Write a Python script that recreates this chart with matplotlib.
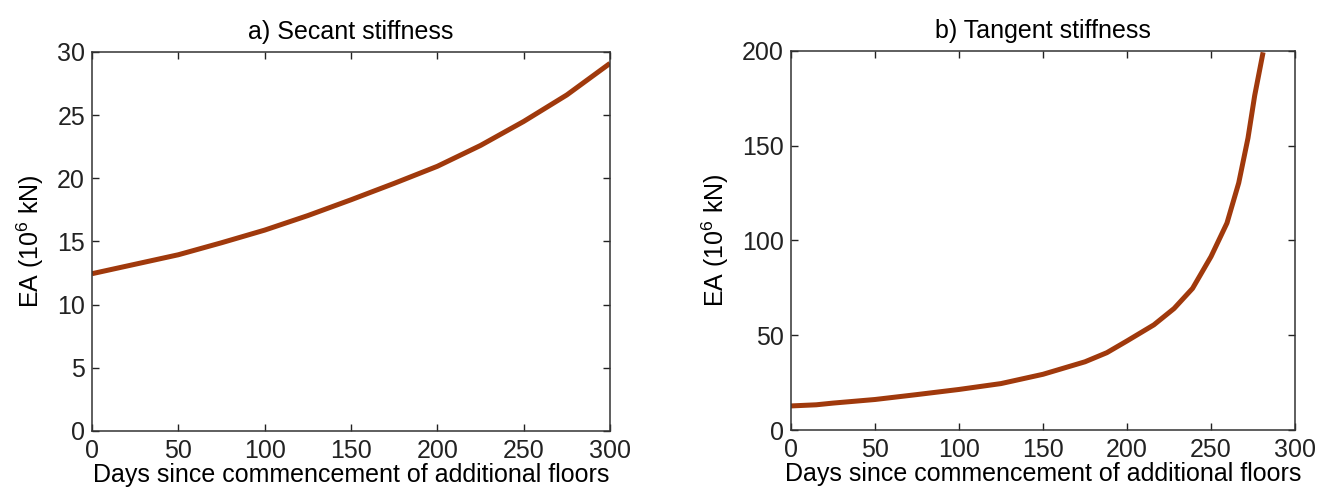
import numpy as np
import matplotlib
matplotlib.use('Agg')
import matplotlib.pyplot as plt

# secant stiffness, read from panel a)
days_sec = [0, 25, 50, 75, 100, 125, 150, 175, 200, 225, 250, 275, 300]
ea_sec = [12.45, 13.2, 13.95, 14.9, 15.9, 17.05, 18.3, 19.6, 20.95, 22.6, 24.5, 26.6, 29.1]

# tangent stiffness, read from panel b)
days_tan = [0, 15, 25, 50, 75, 100, 125, 150, 175, 188, 200, 216, 228, 239, 250,
            259.5, 266.5, 272, 276, 281]
ea_tan = [12.7, 13.3, 14.2, 16.1, 18.7, 21.4, 24.5, 29.4, 36.0, 40.8, 47.0, 55.5,
          64.1, 74.7, 91.5, 109.2, 130.4, 154.0, 176.5, 199.3]

xticks = [0, 50, 100, 150, 200, 250, 300]
yticks_a = [0, 5, 10, 15, 20, 25, 30]
yticks_b = [0, 50, 100, 150, 200]

plt.rcParams['font.family'] = ['Liberation Sans', 'DejaVu Sans']
plt.rcParams['mathtext.fontset'] = 'custom'
plt.rcParams['mathtext.rm'] = 'Liberation Sans'

col = '#A0390C'
fs = 18

fig = plt.figure(figsize=(13.33, 4.97), dpi=100)
ax1 = fig.add_axes([0.0690, 0.1328, 0.3886, 0.7626])
ax2 = fig.add_axes([0.5934, 0.1348, 0.3781, 0.7626])

for ax, xd, yd, yt, ttl in [(ax1, days_sec, ea_sec, yticks_a, 'a) Secant stiffness'),
                            (ax2, days_tan, ea_tan, yticks_b, 'b) Tangent stiffness')]:
    ax.plot(xd, yd, color=col, lw=3.6, solid_joinstyle='round', solid_capstyle='butt')
    ax.set_xlim(0, 300)
    ax.set_ylim(yt[0], yt[-1])
    ax.set_xticks(xticks)
    ax.set_yticks(yt)
    ax.tick_params(direction='in', length=5, width=1, top=True, right=True,
                   labelsize=fs, colors='#222222')
    ax.tick_params(axis='x', pad=6)
    ax.tick_params(axis='y', pad=5)
    for s in ax.spines.values():
        s.set_linewidth(1.1)
        s.set_color('#333333')
    ax.set_title(ttl, fontsize=fs, pad=9)
    ax.set_xlabel('Days since commencement of additional floors', fontsize=fs, labelpad=0)
    ax.set_ylabel(r'EA (10$^6$ kN)', fontsize=fs, labelpad=8)

fig.savefig('out.png', dpi=100)
